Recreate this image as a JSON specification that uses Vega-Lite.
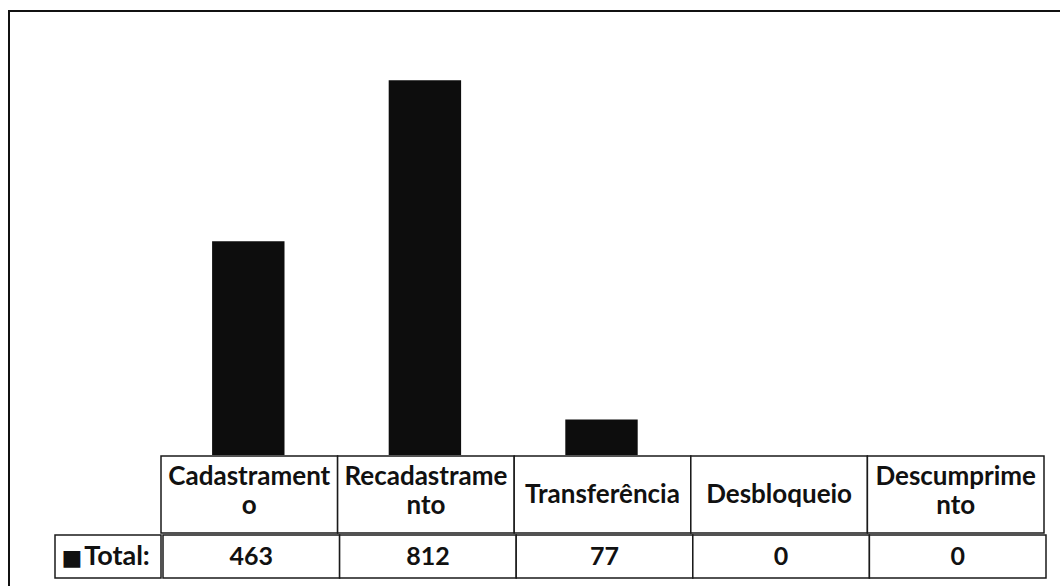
{
  "$schema": "https://vega.github.io/schema/vega-lite/v6.json",
  "padding": {"left": 8, "top": 10, "right": 0, "bottom": 0},
  "background": "white",
  "config": {
    "view": {"stroke": null},
    "text": {"font": "Lato", "fontWeight": "bold", "fontSize": 26, "color": "#111"},
    "axis": {"disable": true}
  },
  "datasets": {
    "cats": [
      {"cat": "Cadastramento", "label": ["Cadastrament", "o"], "total": 463},
      {"cat": "Recadastramento", "label": ["Recadastrame", "nto"], "total": 812},
      {"cat": "Transferência", "label": ["Transferência"], "total": 77},
      {"cat": "Desbloqueio", "label": ["Desbloqueio"], "total": 0},
      {"cat": "Descumprimento", "label": ["Descumprime", "nto"], "total": 0}
    ],
    "series": [{"series": "Total:"}]
  },
  "spacing": 0,
  "vconcat": [
    {"width": 1052, "height": 2, "view": {"fill": "#111", "stroke": null}, "data": {"values": []}, "mark": "rect", "encoding": {}},
    {
      "spacing": 0,
      "hconcat": [
        {"width": 2, "height": 576, "view": {"fill": "#111", "stroke": null}, "data": {"values": []}, "mark": "rect", "encoding": {}},
        {
          "spacing": 0,
          "vconcat": [
            {
              "spacing": 0,
              "hconcat": [
                {"width": 150, "height": 443, "data": {"values": []}, "mark": "rect", "encoding": {}},
                {
                  "width": 883, "height": 443,
                  "data": {"name": "cats"},
                  "mark": {"type": "bar", "color": "#0d0d0d"},
                  "encoding": {
                    "x": {"field": "cat", "type": "nominal", "sort": null, "axis": null,
                          "scale": {"paddingInner": 0.59, "paddingOuter": 0.295}},
                    "y": {"field": "total", "type": "quantitative", "axis": null,
                          "scale": {"domain": [0, 960], "nice": false}}
                  }
                }
              ]
            },
            {
              "spacing": 0,
              "hconcat": [
                {"width": 150, "height": 77, "data": {"values": []}, "mark": "rect", "encoding": {}},
                {
                  "width": 883, "height": 77,
                  "data": {"name": "cats"},
                  "encoding": {
                    "x": {"field": "cat", "type": "nominal", "sort": null, "axis": null,
                          "scale": {"paddingInner": 0, "paddingOuter": 0}}
                  },
                  "layer": [
                    {"mark": {"type": "bar", "fill": "white", "stroke": "#1a1a1a", "strokeWidth": 1.5}},
                    {"transform": [{"filter": "length(datum.label) > 1"}],
                     "mark": {"type": "text", "lineHeight": 29, "baseline": "middle", "dy": -17.5},
                     "encoding": {"text": {"field": "label"}}},
                    {"transform": [{"filter": "length(datum.label) == 1"}],
                     "mark": {"type": "text", "baseline": "middle"},
                     "encoding": {"text": {"field": "label"}}}
                  ]
                }
              ]
            },
            {
              "spacing": 0,
              "hconcat": [
                {"width": 44, "height": 43, "data": {"values": []}, "mark": "rect", "encoding": {}},
                {
                  "width": 106, "height": 43,
                  "data": {"name": "series"},
                  "view": {"stroke": "#1a1a1a", "strokeWidth": 1.5, "fill": "white"},
                  "layer": [
                    {"mark": {"type": "text", "text": "■", "fontSize": 22, "font": "DejaVu Sans", "dx": -36, "baseline": "middle", "dy": 1}},
                    {"mark": {"type": "text", "dx": 9, "baseline": "middle", "fontSize": 27},
                     "encoding": {"text": {"field": "series"}}}
                  ]
                },
                {
                  "width": 883, "height": 43,
                  "data": {"name": "cats"},
                  "encoding": {
                    "x": {"field": "cat", "type": "nominal", "sort": null, "axis": null,
                          "scale": {"paddingInner": 0, "paddingOuter": 0}}
                  },
                  "layer": [
                    {"mark": {"type": "bar", "fill": "white", "stroke": "#1a1a1a", "strokeWidth": 1.5}},
                    {"mark": {"type": "text", "baseline": "middle", "fontSize": 25},
                     "encoding": {"text": {"field": "total", "type": "quantitative"}}}
                  ]
                }
              ]
            }
          ]
        }
      ]
    }
  ]
}
